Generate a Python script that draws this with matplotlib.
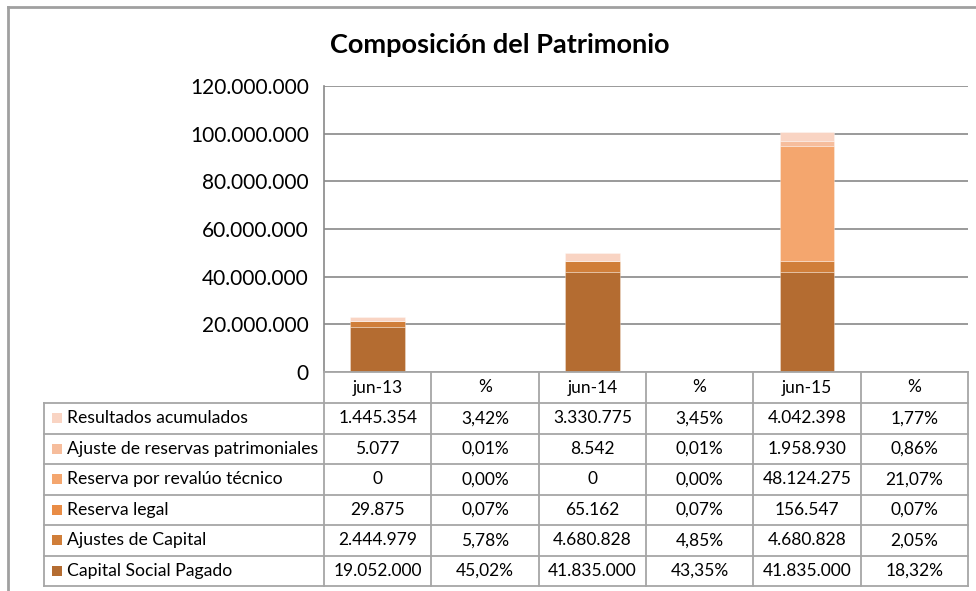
import matplotlib
matplotlib.use("Agg")
import matplotlib.pyplot as plt
from matplotlib.lines import Line2D
from matplotlib.patches import Rectangle

plt.rcParams['font.family'] = ['Lato', 'DejaVu Sans']

categories = ['jun-13', '%', 'jun-14', '%', 'jun-15', '%']
periods = ['jun-13', 'jun-14', 'jun-15']

# series (bottom to top of stack)
series_names = ['Capital Social Pagado', 'Ajustes de Capital', 'Reserva legal',
                'Reserva por revalúo técnico', 'Ajuste de reservas patrimoniales',
                'Resultados acumulados']
capital_social = [19052000, 41835000, 41835000]
capital_social_pct = [45.02, 43.35, 18.32]
ajustes_capital = [2444979, 4680828, 4680828]
ajustes_capital_pct = [5.78, 4.85, 2.05]
reserva_legal = [29875, 65162, 156547]
reserva_legal_pct = [0.07, 0.07, 0.07]
reserva_revaluo = [0, 0, 48124275]
reserva_revaluo_pct = [0.00, 0.00, 21.07]
ajuste_reservas = [5077, 8542, 1958930]
ajuste_reservas_pct = [0.01, 0.01, 0.86]
resultados = [1445354, 3330775, 4042398]
resultados_pct = [3.42, 3.45, 1.77]

amounts = [capital_social, ajustes_capital, reserva_legal, reserva_revaluo,
           ajuste_reservas, resultados]
pcts = [capital_social_pct, ajustes_capital_pct, reserva_legal_pct,
        reserva_revaluo_pct, ajuste_reservas_pct, resultados_pct]
colors = ['#B46C31', '#D07E39', '#E98C45', '#F4A66E', '#F6BD9C', '#F9D4C3']

yticks = [0, 20000000, 40000000, 60000000, 80000000, 100000000, 120000000]


def fmt_int(v):
    return f"{v:,.0f}".replace(",", ".")


def fmt_pct(v):
    return f"{v:.2f}%".replace(".", ",")


W, H = 976, 591
fig = plt.figure(figsize=(W / 100, H / 100), dpi=100)

def fx(px):
    return px / W

def fy(py):
    return 1 - py / H

ax_l, ax_r, ax_t, ax_b = 324, 968, 86, 372
ax = fig.add_axes([fx(ax_l), fy(ax_b), fx(ax_r - ax_l), fy(ax_t) - fy(ax_b)])

grid_c = '#898989'
ax.set_xlim(-0.5, len(categories) - 0.5)
ax.set_ylim(0, 120000000)
ax.set_yticks(yticks)
ax.set_yticklabels([fmt_int(v) if v else '0' for v in yticks], fontsize=15)
ax.tick_params(axis='y', length=0, pad=11, colors='black')
ax.tick_params(axis='x', length=0, labelbottom=False)
ax.set_xticks([])
for s in ['top', 'right', 'bottom']:
    ax.spines[s].set_visible(False)
ax.spines['left'].set_color(grid_c)
ax.spines['left'].set_linewidth(1.2)
ax.yaxis.grid(True, color=grid_c, linewidth=1.2)
ax.set_axisbelow(True)

xpos = [categories.index(p) for p in periods]
bottoms = [0, 0, 0]
for name, vals, col in zip(series_names, amounts, colors):
    ax.bar(xpos, vals, width=0.51, bottom=bottoms, color=col,
           edgecolor=(1, 1, 1, 0.35), linewidth=0.6, label=name, zorder=3)
    bottoms = [b + v for b, v in zip(bottoms, vals)]

fig.text(fx(500), fy(45), 'Composición del Patrimonio', ha='center', va='center',
         fontsize=19.5, fontweight='bold')

# data table
line_c = '#A6A6A6'
col_w = (ax_r - ax_l) / len(categories)
row_top = ax_b
header_h = 31
row_h = 30.5
label_l = 44
n_rows = len(series_names)
table_bottom = row_top + header_h + n_rows * row_h

def hline(x0, x1, y):
    fig.add_artist(Line2D([fx(x0), fx(x1)], [fy(y), fy(y)], color=line_c, lw=1.3))

def vline(x, y0, y1):
    fig.add_artist(Line2D([fx(x), fx(x)], [fy(y0), fy(y1)], color=line_c, lw=1.3))

hline(ax_l, ax_r, row_top)
for r in range(n_rows + 1):
    hline(label_l, ax_r, row_top + header_h + r * row_h)
for c in range(len(categories) + 1):
    vline(ax_l + c * col_w, row_top, table_bottom)
vline(label_l, row_top + header_h, table_bottom)

cell_fs = 12.5
for c, cat in enumerate(categories):
    fig.text(fx(ax_l + (c + 0.5) * col_w), fy(row_top + header_h / 2), cat,
             ha='center', va='center', fontsize=cell_fs)

display_order = list(range(n_rows))[::-1]  # top row = last series
for r, si in enumerate(display_order):
    yc = row_top + header_h + (r + 0.5) * row_h
    sq = 10
    fig.add_artist(Rectangle((fx(52), fy(yc + sq / 2)), fx(sq), fy(0) - fy(sq),
                             facecolor=colors[si], edgecolor='none'))
    fig.text(fx(67), fy(yc), series_names[si], ha='left', va='center', fontsize=12.7)
    for k in range(3):
        fig.text(fx(ax_l + (2 * k + 0.5) * col_w), fy(yc), fmt_int(amounts[si][k]),
                 ha='center', va='center', fontsize=cell_fs)
        fig.text(fx(ax_l + (2 * k + 1.5) * col_w), fy(yc), fmt_pct(pcts[si][k]),
                 ha='center', va='center', fontsize=cell_fs)

# outer chart frame
frame_c = '#A0A0A0'
fig.add_artist(Line2D([fx(8), fx(976)], [fy(7), fy(7)], color=frame_c, lw=2))
fig.add_artist(Line2D([fx(8), fx(8)], [fy(7), fy(591)], color=frame_c, lw=2))

fig.savefig('out.png', dpi=100)
